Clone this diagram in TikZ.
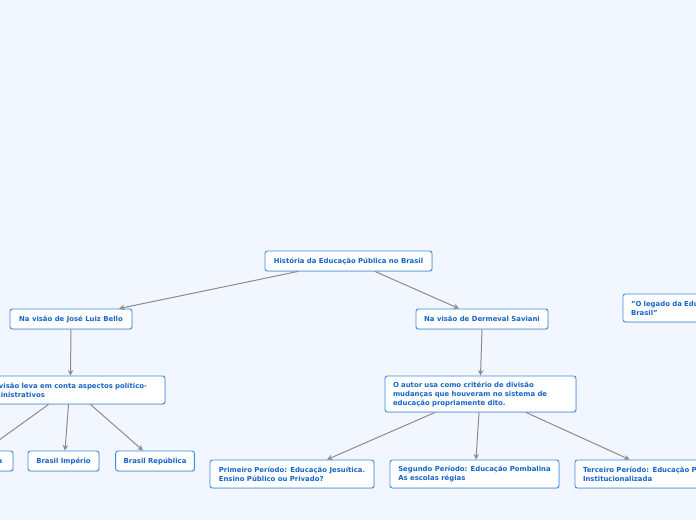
\documentclass[tikz,border=0pt]{standalone}
\usepackage{fontspec}
\setmainfont{DejaVu Sans}
\usepackage{tikz}
\usetikzlibrary{arrows.meta,shadows}

\definecolor{bgblue}{HTML}{F2F6FE}
\definecolor{bordblue}{HTML}{3B8DE8}
\definecolor{txtblue}{HTML}{1565C8}
\definecolor{linkgray}{HTML}{8C8C8C}

\tikzset{
  topic/.style={draw=bordblue, fill=white, line width=0.9pt, rounded corners=2.5pt,
    text=txtblue, font=\fontsize{6.9}{9}\selectfont\bfseries, inner xsep=8pt, inner ysep=0pt,
    drop shadow={shadow xshift=0.6pt, shadow yshift=-0.9pt, opacity=0.25}},
  leaf/.style={topic, minimum height=20pt},
  note/.style={topic, align=left, minimum height=28pt}
  ,
  link/.style={draw=linkgray, line width=1pt, -{Stealth[length=5.5pt,width=5.5pt]}}
}

\begin{document}
\begin{tikzpicture}[x=1pt,y=-1pt]
			\fill[bgblue] (0,0) rectangle (696,520);
			\useasboundingbox (0,0) rectangle (696,520);
			\clip (0,0) rectangle (696,520);
			% main topic and the two views
			\node[leaf, minimum width=167pt] (root) at (348.5,261) {História da Educação Pública no Brasil};
			\node[leaf, minimum width=122pt] (bello) at (71,319) {Na visão de José Luiz Bello};
			\node[leaf, minimum width=132pt] (saviani) at (482,319) {Na visão de Dermeval Saviani};
			\node[note, text width=200pt] (legado) at (731,308) {"O legado da Educação Jesuítica para o\\Brasil"};
			% Bello
			\node[note, text width=173pt] (divisao) at (70.5,390) {A divisão leva em conta aspectos político-\\administrativos};
			\node[leaf, minimum width=75pt] (colonia) at (-24.5,461) {Brasil Colônia};
			\node[leaf, minimum width=71pt] (imperio) at (63.5,461) {Brasil Império};
			\node[leaf, minimum width=78pt] (republica) at (155,461) {Brasil República};
			% Saviani
			\node[note, text width=175pt, minimum height=36pt] (autor) at (480.5,394) {O autor usa como critério de divisão\\mudanças que houveram no sistema de\\educação propriamente dito.};
			\node[note, minimum width=164pt] (primeiro) at (292,474) {Primeiro Período: Educação Jesuítica.\\Ensino Público ou Privado?};
			\node[note, minimum width=169pt] (segundo) at (474.5,474) {Segundo Período: Educação Pombalina\\As escolas régias};
			\node[note, text width=160pt] (terceiro) at (663,474) {Terceiro Período: Educação Pública\\Institucionalizada};
			% connectors
			\draw[link] ([xshift=-50.5pt]root.south) -- ([xshift=48pt]bello.north);
			\draw[link] ([xshift=26.5pt]root.south) -- ([xshift=-23pt]saviani.north);
			\draw[link] (bello.south) -- (divisao.north);
			\draw[link] (saviani.south) -- (autor.north);
			\draw[link] ([xshift=-22pt]divisao.south) -- ([xshift=9pt]colonia.north);
			\draw[link] ([xshift=-2pt]divisao.south) -- ([xshift=1.5pt]imperio.north);
			\draw[link] ([xshift=20pt]divisao.south) -- ([xshift=-12pt]republica.north);
			\draw[link] ([xshift=-45.5pt]autor.south) -- ([xshift=35pt]primeiro.north);
			\draw[link] ([xshift=-1.5pt]autor.south) -- ([xshift=1.5pt]segundo.north);
			\draw[link] ([xshift=45.5pt]autor.south) -- ([xshift=-33.5pt]terceiro.north);
		\end{tikzpicture}
\end{document}
